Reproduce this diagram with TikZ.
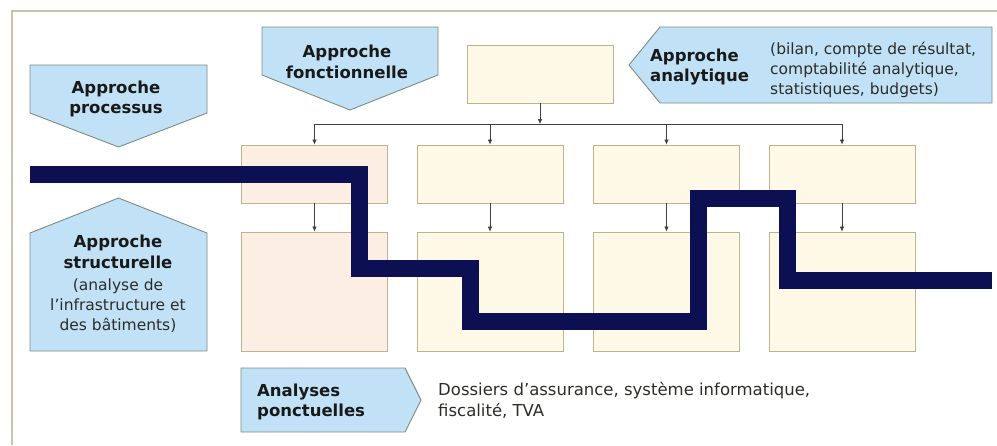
\documentclass[tikz,border=0pt]{standalone}
\usepackage{fontspec}
\setmainfont{DejaVu Sans}
\usetikzlibrary{arrows.meta}

\definecolor{cadre}{RGB}{200,196,172}
\definecolor{bleuclair}{RGB}{193,226,246}
\definecolor{bordbleu}{RGB}{125,140,130}
\definecolor{creme}{RGB}{254,248,230}
\definecolor{rose}{RGB}{252,238,226}
\definecolor{bordboite}{RGB}{188,180,140}
\definecolor{marine}{RGB}{12,16,82}
\definecolor{texte}{RGB}{45,45,40}

\tikzset{
  approche/.style={fill=bleuclair, draw=bordbleu, line width=0.9pt},
  boite/.style={draw=bordboite, fill=creme, line width=0.9pt, minimum width=146pt, minimum height=58pt, inner sep=0pt},
  grande/.style={boite, minimum height=119pt},
  titre/.style={font=\fontsize{16.5}{20.5}\selectfont\bfseries, text=black!90, align=center, inner sep=0pt},
  detail/.style={font=\fontsize{15.5}{20}\selectfont, text=texte, align=left, inner sep=0pt},
  fleche/.style={draw=black!75, line width=0.6pt, -{Latex[length=5pt,width=4.5pt]}},
}

\begin{document}
\begin{tikzpicture}[x=1pt,y=-1pt]
  \useasboundingbox (0,0) rectangle (997,445);
  \draw[cadre, line width=2pt] (12,445) -- (12,11) -- (997,11);

  % les approches
  \draw[approche] (30,65) -- (207,65) -- (207,113) -- (118.5,147) -- (30,113) -- cycle;
  \draw[approche] (262,27) -- (438,27) -- (438,75) -- (350,110) -- (262,75) -- cycle;
  \draw[approche] (30,351) -- (30,233) -- (118.5,198) -- (207,233) -- (207,351) -- cycle;
  \draw[approche] (629,65) -- (660,27) -- (992,27) -- (992,103) -- (660,103) -- cycle;
  \draw[approche] (241,368) -- (405,368) -- (421,400) -- (405,432) -- (241,432) -- cycle;

  \node[titre] (proc) at (116,99) {Approche\\processus};
  \node[titre] (fonc) at (347,62) {Approche\\fonctionnelle};
  \node[titre] (struc) at (118,252) {Approche\\structurelle};
  \node[detail, align=center] (strucdet) at (118,306) {(analyse de\\l’infrastructure et\\des bâtiments)};
  \node[titre, align=left, anchor=west] (ana) at (650,67) {Approche\\analytique};
  \node[detail, anchor=west] (anadet) at (770,70) {(bilan, compte de résultat,\\comptabilité analytique,\\statistiques, budgets)};
  \node[titre, align=left, anchor=west] (ponc) at (257,402) {Analyses\\ponctuelles};
  \node[detail, anchor=west, font=\fontsize{16.5}{21}\selectfont] (poncdet) at (438,400) {Dossiers d’assurance, système informatique,\\fiscalité, TVA};

  % organigramme
  \node[boite] (racine) at (540,74) {};
  \node[boite, fill=rose] (n1) at (314.5,174) {};
  \node[boite] (n2) at (490,174) {};
  \node[boite] (n3) at (666.5,174) {};
  \node[boite] (n4) at (842,174) {};
  \node[grande, fill=rose] (m1) at (314.5,291.5) {};
  \node[grande] (m2) at (490,291.5) {};
  \node[grande] (m3) at (666.5,291.5) {};
  \node[grande] (m4) at (842,291.5) {};

  \coordinate (bus) at (540,124);
  \coordinate (b1) at (314.5,124);
  \coordinate (b2) at (490,124);
  \coordinate (b3) at (666.5,124);
  \coordinate (b4) at (842,124);
  \begin{scope}[fleche]
    \draw (racine) to (bus);
    \draw (b1) to (n1);
    \draw (b2) to (n2);
    \draw (b3) to (n3);
    \draw (b4) to (n4);
    \draw (n1) to (m1);
    \draw (n2) to (m2);
    \draw (n3) to (m3);
    \draw (n4) to (m4);
  \end{scope}
  \draw[draw=black!75, line width=0.6pt] (b1) -- (b4);

  % le fil conducteur
  \draw[marine, line width=17pt] (30,174) -| (359,268) -| (470,321) -| (698,198) -| (787,280) -- (992,280);
\end{tikzpicture}
\end{document}
